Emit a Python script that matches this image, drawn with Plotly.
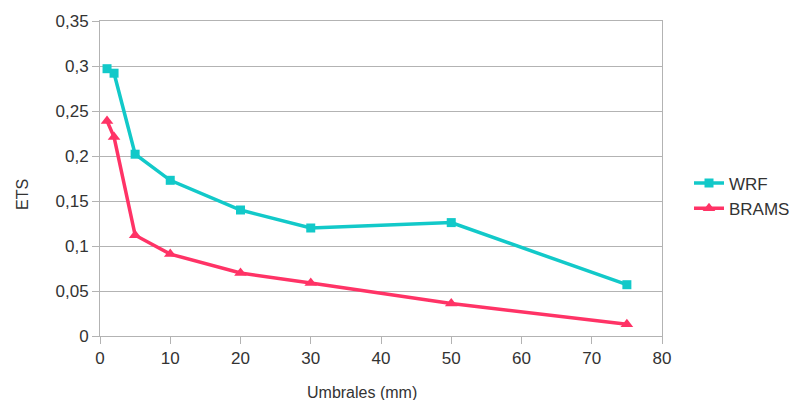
import plotly.graph_objects as go

umbrales = [1, 2, 5, 10, 20, 30, 50, 75]
wrf = [0.297, 0.292, 0.202, 0.173, 0.140, 0.120, 0.126, 0.057]
brams = [0.239, 0.221, 0.112, 0.091, 0.070, 0.059, 0.036, 0.013]
ytick_vals = [0, 0.05, 0.1, 0.15, 0.2, 0.25, 0.3, 0.35]
ytick_text = ["0", "0,05", "0,1", "0,15", "0,2", "0,25", "0,3", "0,35"]
xtick_vals = [0, 10, 20, 30, 40, 50, 60, 70, 80]

FONT = "Liberation Sans, Arial, sans-serif"
fig = go.Figure()
fig.add_trace(go.Scatter(x=umbrales, y=wrf, name="WRF", mode="lines+markers",
                         line=dict(color="#12C9C9", width=3.5),
                         marker=dict(symbol="square", size=9, color="#12C9C9")))
fig.add_trace(go.Scatter(x=umbrales, y=brams, name="BRAMS", mode="lines+markers",
                         line=dict(color="#FF3366", width=3.5),
                         marker=dict(symbol="triangle-up", size=11, color="#FF3366")))

fig.update_layout(
    width=793, height=400,
    margin=dict(l=100, r=131, t=21, b=64),
    paper_bgcolor="white", plot_bgcolor="white",
    font=dict(family=FONT, size=17, color="#333333"),
    showlegend=True,
    legend=dict(xref="container", yref="container", x=689/793, xanchor="left",
                y=(400-196)/400, yanchor="middle",
                font=dict(size=17, color="#333333"), itemwidth=30,
                tracegroupgap=0, bgcolor="rgba(0,0,0,0)"),
    xaxis=dict(range=[0, 80], tickvals=xtick_vals, showgrid=False,
               showline=True, linecolor="#b3b3b3", linewidth=1, mirror=True,
               ticks="outside", ticklen=7, tickcolor="#b3b3b3", zeroline=False,
               tickfont=dict(size=17, color="#333333")),
    yaxis=dict(range=[0, 0.35], tickvals=ytick_vals, ticktext=ytick_text,
               showgrid=True, gridcolor="#b3b3b3", gridwidth=1,
               showline=True, linecolor="#b3b3b3", linewidth=1, mirror=True,
               ticks="outside", ticklen=7, tickcolor="#b3b3b3", zeroline=False,
               tickfont=dict(size=17, color="#333333")),
    annotations=[
        dict(text="Umbrales (mm)", xref="paper", yref="paper", x=(362-100)/562, y=-(392-336)/315,
             xanchor="center", yanchor="middle", showarrow=False,
             font=dict(size=16, color="#333333")),
        dict(text="ETS", xref="paper", yref="paper", x=-(100-22)/562, y=(336-195)/315,
             xanchor="center", yanchor="middle", textangle=-90, showarrow=False,
             font=dict(size=16, color="#333333")),
    ],
)
fig.write_html("out.html")
